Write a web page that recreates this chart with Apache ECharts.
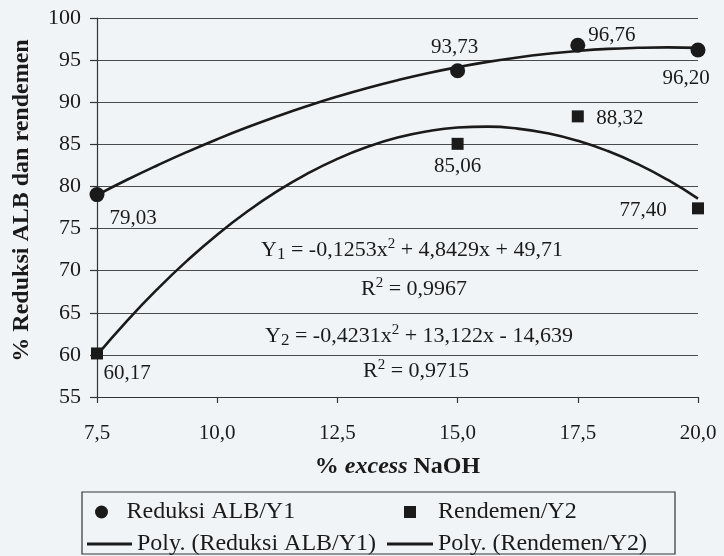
<!DOCTYPE html>
<html>
<head>
<meta charset="utf-8">
<script src="https://cdn.jsdelivr.net/npm/echarts@6/dist/echarts.min.js"></script>
<style>
html,body{margin:0;padding:0;background:#f1f4f7;}
#chart{width:724px;height:556px;}
</style>
</head>
<body>
<div id="chart"></div>
<script>
// ---- data ----
const xValues = [7.5, 15, 17.5, 20];
const reduksiALB = [79.03, 93.73, 96.76, 96.20];
const rendemen = [60.17, 85.06, 88.32, 77.40];
// trend curves
const curveX = [7.5, 8.125, 8.75, 9.375, 10, 10.625, 11.25, 11.875, 12.5, 13.125, 13.75, 14.375, 15, 15.625, 16.25, 16.875, 17.5, 18.125, 18.75, 19.375, 20];
const polyReduksi = [78.98, 80.79, 82.49, 84.10, 85.61, 87.02, 88.33, 89.55, 90.67, 91.69, 92.61, 93.44, 94.16, 94.79, 95.32, 95.75, 96.09, 96.33, 96.46, 96.51, 96.45];
const polyRendemen = [59.98, 64.05, 67.78, 71.19, 74.27, 77.02, 79.44, 81.52, 83.28, 84.70, 85.80, 86.56, 86.99, 87.10, 86.87, 86.31, 85.42, 84.20, 82.65, 80.77, 78.56];
const seriesNames = ['Reduksi ALB/Y1', 'Rendemen/Y2', 'Poly. (Reduksi ALB/Y1)', 'Poly. (Rendemen/Y2)'];

// label offsets (layout only)
const labelOffsetsY1 = [[36, 24], [-3, -23], [34, -10], [-12, 28]];
const labelOffsetsY2 = [[30, 20], [0, 23], [42, 2], [-55, 2]];

const FONT = '"Liberation Serif", "DejaVu Serif", serif';
const INK = '#1a1a1a';
const fmt = v => v.toFixed(2).replace('.', ',');

function scatterData(ys, offs) {
  return xValues.map((x, i) => ({
    value: [x, ys[i]],
    label: { show: true, position: 'inside', offset: offs[i] }
  }));
}

const chart = echarts.init(document.getElementById('chart'), null, {renderer: 'canvas'});

const legendText = { fontFamily: FONT, fontSize: 24, color: INK };
const legendBase = {
  orient: 'vertical', padding: 0, itemGap: 0,
  textStyle: legendText,
  inactiveColor: INK, selectedMode: false
};
const eqRich = {
  t: { fontFamily: FONT, fontSize: 22, fill: INK },
  s: { fontFamily: FONT, fontSize: 17, fill: INK, verticalAlign: 'bottom', padding: [7, 0, 0, 0] },
  u: { fontFamily: FONT, fontSize: 15, fill: INK, verticalAlign: 'top', padding: [0, 0, 11, 0] }
};

const option = {
  backgroundColor: '#f1f4f7',
  animation: false,
  textStyle: { fontFamily: FONT },
  grid: { left: 97, right: 26, top: 18, bottom: 159 },
  xAxis: {
    type: 'value', min: 7.5, max: 20, interval: 2.5,
    name: '{p|% }{i|excess}{p| NaOH}',
    nameLocation: 'middle', nameGap: 58,
    nameTextStyle: {
      rich: {
        p: { fontFamily: FONT, fontSize: 24, fontWeight: 'bold', color: INK },
        i: { fontFamily: FONT, fontSize: 24, fontWeight: 'bold', fontStyle: 'italic', color: INK }
      }
    },
    axisLine: { show: true, onZero: false, lineStyle: { color: '#333', width: 1.2 } },
    axisTick: { show: true, length: 6, lineStyle: { color: '#333', width: 1.2 } },
    splitLine: { show: false },
    axisLabel: { fontFamily: FONT, fontSize: 21, color: INK, margin: 26,
      formatter: v => v.toFixed(1).replace('.', ',') }
  },
  yAxis: {
    type: 'value', min: 55, max: 100, interval: 5,
    name: '% Reduksi ALB dan rendemen',
    nameLocation: 'middle', nameGap: 63,
    nameTextStyle: { fontFamily: FONT, fontSize: 24, fontWeight: 'bold', color: INK,
      padding: [0, 0, 0, 14] },
    axisLine: { show: true, lineStyle: { color: '#333', width: 1.2 } },
    axisTick: { show: true, length: 7, lineStyle: { color: '#333', width: 1.2 } },
    splitLine: { show: true, lineStyle: { color: '#4a4a4a', width: 1.2 } },
    axisLabel: { fontFamily: FONT, fontSize: 22, color: INK, margin: 16 }
  },
  legend: [
    Object.assign({}, legendBase, { data: [{ name: seriesNames[0], icon: 'circle' }],
      left: 95, top: 500, itemWidth: 40, itemHeight: 13 }),
    Object.assign({}, legendBase, { data: [{ name: seriesNames[1], icon: 'rect' }],
      left: 404, top: 500, itemWidth: 12, itemHeight: 12,
      formatter: n => '{a|' + n + '}',
      textStyle: Object.assign({}, legendText, { rich: { a: Object.assign({ padding: [0, 0, 0, 17] }, legendText) } }) }),
    Object.assign({}, legendBase, { data: [{ name: seriesNames[2], icon: 'rect' }],
      left: 87, top: 532, itemWidth: 45, itemHeight: 3 }),
    Object.assign({}, legendBase, { data: [{ name: seriesNames[3], icon: 'rect' }],
      left: 387, top: 532, itemWidth: 46, itemHeight: 3 })
  ],
  graphic: [
    { type: 'rect', shape: { x: 82, y: 492, width: 593, height: 62 },
      style: { fill: 'none', stroke: '#333', lineWidth: 1.2 }, z: 0 },
    { type: 'text', x: 412, y: 250, style: {
        text: '{t|Y}{s|1}{t| = -0,1253x}{u|2}{t| + 4,8429x + 49,71}',
        align: 'center', verticalAlign: 'middle', rich: eqRich } },
    { type: 'text', x: 414, y: 289, style: {
        text: '{t|R}{u|2}{t| = 0,9967}',
        align: 'center', verticalAlign: 'middle', rich: eqRich } },
    { type: 'text', x: 419, y: 336, style: {
        text: '{t|Y}{s|2}{t| = -0,4231x}{u|2}{t| + 13,122x - 14,639}',
        align: 'center', verticalAlign: 'middle', rich: eqRich } },
    { type: 'text', x: 416, y: 371, style: {
        text: '{t|R}{u|2}{t| = 0,9715}',
        align: 'center', verticalAlign: 'middle', rich: eqRich } }
  ],
  series: [
    {
      name: seriesNames[2], type: 'line', smooth: true, symbol: 'none',
      data: curveX.map((x, i) => [x, polyReduksi[i]]),
      lineStyle: { color: INK, width: 2.6 }, itemStyle: { color: INK }, z: 3
    },
    {
      name: seriesNames[3], type: 'line', smooth: true, symbol: 'none',
      data: curveX.map((x, i) => [x, polyRendemen[i]]),
      lineStyle: { color: INK, width: 2.6 }, itemStyle: { color: INK }, z: 3
    },
    {
      name: seriesNames[0], type: 'scatter', symbol: 'circle', symbolSize: 15,
      data: scatterData(reduksiALB, labelOffsetsY1),
      itemStyle: { color: INK, opacity: 1 }, z: 5,
      label: { fontFamily: FONT, fontSize: 21, color: INK,
        formatter: p => fmt(p.value[1]) }
    },
    {
      name: seriesNames[1], type: 'scatter', symbol: 'rect', symbolSize: 12,
      data: scatterData(rendemen, labelOffsetsY2),
      itemStyle: { color: INK, opacity: 1 }, z: 5,
      label: { fontFamily: FONT, fontSize: 21, color: INK,
        formatter: p => fmt(p.value[1]) }
    }
  ]
};
chart.setOption(option);
</script>
</body>
</html>
